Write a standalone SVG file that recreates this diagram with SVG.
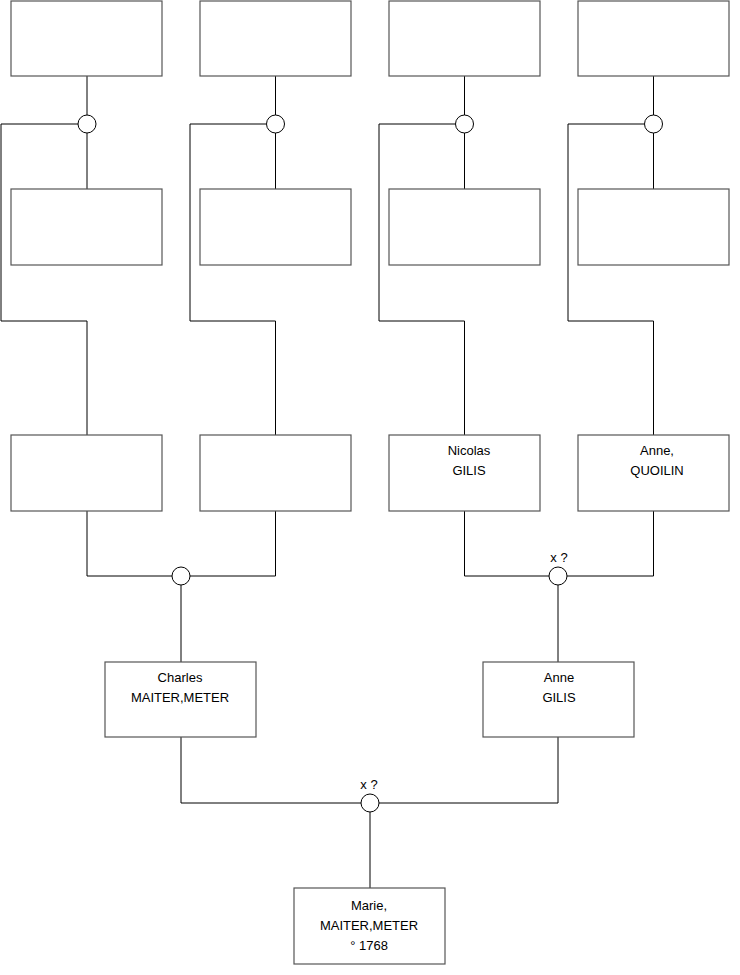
<svg xmlns="http://www.w3.org/2000/svg" width="740" height="975" viewBox="0 0 740 975">
<style>
.box{fill:#fff;stroke:#555;stroke-width:1.2}
.ln{fill:none;stroke:#000;stroke-width:1}
.c{fill:#fff;stroke:#000;stroke-width:1}
text{font-family:"Liberation Sans",Arial,sans-serif;font-size:13px;fill:#000;text-anchor:middle}
</style>
<rect width="740" height="975" fill="#fff"/>
<g id="connectors">
<path class="ln" d="M87 76V115M87 133V189M78 124H1V321H87V435"/>
<path class="ln" d="M275.5 76V115M275.5 133V189M266 124H190V321H275.5V435"/>
<path class="ln" d="M464.5 76V115M464.5 133V189M455 124H379V321H464.5V435"/>
<path class="ln" d="M653.5 76V115M653.5 133V189M644 124H568V321H653.5V435"/>
<path class="ln" d="M87 511V576H172M190 576H275.5V511M181 585V662"/>
<path class="ln" d="M464.5 511V576H549M567 576H653.5V511M558 585V662"/>
<path class="ln" d="M181 737V803H361M379 803H558V737M370 812V888"/>
</g>
<g id="u1"><rect class="box" x="11" y="1" width="151" height="75"/></g>
<g id="u2"><rect class="box" x="200" y="1" width="151" height="75"/></g>
<g id="u3"><rect class="box" x="389" y="1" width="151" height="75"/></g>
<g id="u4"><rect class="box" x="578" y="1" width="151" height="75"/></g>
<g id="m1"><circle class="c" cx="87" cy="124" r="9"/></g>
<g id="m2"><circle class="c" cx="275.5" cy="124" r="9"/></g>
<g id="m3"><circle class="c" cx="464.5" cy="124" r="9"/></g>
<g id="m4"><circle class="c" cx="653.5" cy="124" r="9"/></g>
<g id="v1"><rect class="box" x="11" y="189" width="151" height="76"/></g>
<g id="v2"><rect class="box" x="200" y="189" width="151" height="76"/></g>
<g id="v3"><rect class="box" x="389" y="189" width="151" height="76"/></g>
<g id="v4"><rect class="box" x="578" y="189" width="151" height="76"/></g>
<g id="w1"><rect class="box" x="11" y="435" width="151" height="76"/></g>
<g id="w2"><rect class="box" x="200" y="435" width="151" height="76"/></g>
<g id="nicolas"><rect class="box" x="389" y="435" width="151" height="76"/><text x="469" y="455">Nicolas</text><text x="469" y="475">GILIS</text></g>
<g id="anneq"><rect class="box" x="578" y="435" width="151" height="76"/><text x="657" y="455">Anne,</text><text x="657" y="475">QUOILIN</text></g>
<g id="m5"><circle class="c" cx="181" cy="576" r="9"/></g>
<g id="m6"><circle class="c" cx="558" cy="576" r="9"/><text x="559" y="562">x ?</text></g>
<g id="charles"><rect class="box" x="105" y="662" width="151" height="75"/><text x="180" y="682">Charles</text><text x="180" y="702">MAITER,METER</text></g>
<g id="anneg"><rect class="box" x="483" y="662" width="151" height="75"/><text x="559" y="682">Anne</text><text x="559" y="702">GILIS</text></g>
<g id="m7"><circle class="c" cx="370" cy="803" r="9"/><text x="369" y="789">x ?</text></g>
<g id="marie"><rect class="box" x="294" y="888" width="151" height="76"/><text x="369" y="910">Marie,</text><text x="369" y="930">MAITER,METER</text><text x="369" y="950">° 1768</text></g>
</svg>
